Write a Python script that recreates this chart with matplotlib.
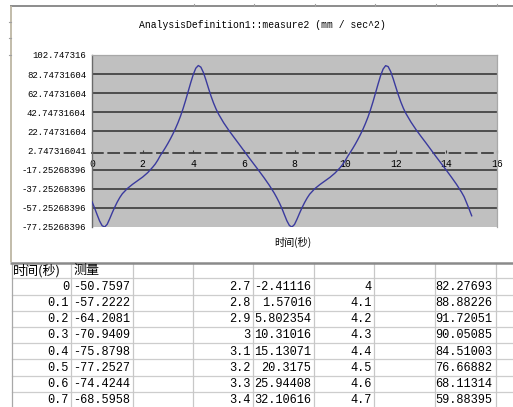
import matplotlib
matplotlib.use("Agg")
import matplotlib.pyplot as plt

# ---------------- data ----------------
time_s = [0.0, 0.1, 0.2, 0.3, 0.4, 0.5, 0.6, 0.7, 0.8, 0.9, 1.0, 1.1, 1.2, 1.4, 1.6, 1.8,
          2.0, 2.2, 2.4, 2.5, 2.6, 2.7, 2.8, 2.9, 3.0, 3.1, 3.2, 3.3, 3.4, 3.5, 3.6, 3.7,
          3.8, 3.9, 4.0, 4.1, 4.2, 4.3, 4.4, 4.5, 4.6, 4.7, 4.8, 4.9, 5.0, 5.2, 5.4, 5.6,
          5.8, 6.0, 6.2, 6.4, 6.6, 6.8, 7.0, 7.2, 7.3, 7.4, 7.5, 7.6, 7.7, 7.8, 7.9, 8.0,
          8.1, 8.2, 8.3, 8.4, 8.5, 8.6, 8.8, 9.0, 9.2, 9.4, 9.6, 9.8, 9.9, 10.0, 10.1, 10.2,
          10.3, 10.4, 10.5, 10.6, 10.7, 10.8, 10.9, 11.0, 11.1, 11.2, 11.3, 11.4, 11.5, 11.6,
          11.7, 11.8, 11.9, 12.0, 12.1, 12.2, 12.3, 12.4, 12.6, 12.8, 13.0, 13.2, 13.4, 13.6,
          13.8, 14.0, 14.2, 14.4, 14.6, 14.7, 14.8, 14.9, 15.0]
measure = [-50.7597, -57.2222, -64.2081, -70.9409, -75.8798, -77.2527, -74.4244, -68.5958,
           -62.3, -56.4, -51.0, -46.3, -42.4, -36.9, -32.6, -28.8,
           -25.0, -20.4, -14.6, -11.3, -7.2, -2.41116, 1.57016, 5.802354, 10.31016, 15.13071,
           20.3175, 25.94408, 32.10616, 39.0, 46.8, 55.4,
           64.6, 73.8, 82.27693, 88.88226, 91.72051, 90.05085, 84.51003, 76.66882, 68.11314,
           59.88395, 52.6, 46.3, 40.9, 31.9, 24.1, 16.9,
           9.8, 2.6, -4.6, -11.6, -18.6, -25.8, -33.4, -41.8, -46.6, -51.8, -57.6, -64.3,
           -70.8, -75.7, -77.2, -74.6,
           -69.0, -62.8, -56.9, -51.6, -46.9, -42.9, -37.2, -32.9, -29.1, -25.3, -20.8, -15.2,
           -11.9, -8.0, -3.4, 0.7,
           4.9, 9.4, 14.2, 19.3, 24.8, 30.9, 37.6, 45.2, 53.7, 62.9, 72.2, 81.0, 88.0, 91.6,
           90.6, 85.4, 77.8, 69.4, 61.1, 53.6, 47.1, 41.6, 32.6, 24.7, 17.5, 10.5, 3.3, -3.9,
           -10.9, -17.9, -25.1, -32.6, -40.9, -45.6, -52.0, -58.6, -65.5]

y_ticks = [102.747316, 82.74731604, 62.74731604, 42.74731604, 22.74731604,
           2.747316041, -17.25268396, -37.25268396, -57.25268396, -77.25268396]
x_ticks = [0, 2, 4, 6, 8, 10, 12, 14, 16]
chart_title = "AnalysisDefinition1::measure2 (mm / sec^2)"
x_label = "时间(秒)"

table_header = ["时间(秒)", "测量"]
table_t1 = [0, 0.1, 0.2, 0.3, 0.4, 0.5, 0.6, 0.7]
table_v1 = [-50.7597, -57.2222, -64.2081, -70.9409, -75.8798, -77.2527, -74.4244, -68.5958]
table_t2 = [2.7, 2.8, 2.9, 3, 3.1, 3.2, 3.3, 3.4]
table_v2 = [-2.41116, 1.57016, 5.802354, 10.31016, 15.13071, 20.3175, 25.94408, 32.10616]
table_t3 = [4, 4.1, 4.2, 4.3, 4.4, 4.5, 4.6, 4.7]
table_v3 = [82.27693, 88.88226, 91.72051, 90.05085, 84.51003, 76.66882, 68.11314, 59.88395]

# ---------------- figure ----------------
W, H = 513, 407
fig = plt.figure(figsize=(W / 100, H / 100), dpi=100)
fig.patch.set_facecolor("white")

MONO = ["Liberation Mono", "Noto Sans CJK SC"]
CJK = ["Noto Sans CJK SC", "DejaVu Sans"]

# background pixel-space axes for the chart frame and worksheet table
bg = fig.add_axes([0, 0, 1, 1])
bg.set_xlim(0, W)
bg.set_ylim(H, 0)
bg.axis("off")

# chart area border
bg.plot([10, W], [6, 6], color="#8c8c8c", lw=1.4, solid_capstyle="butt")
bg.plot([10.7, 10.7], [6, 262], color="#bdb6a4", lw=1.3, solid_capstyle="butt")

# worksheet table
col_x = [11.7, 71, 132.7, 192.7, 253, 314, 374, 435, 496, 556]
row_top = 278.3
row_h = 16.2
for k in range(9):
    y = row_top + k * row_h
    bg.plot([11.7, W], [y, y], color="#cdcdcd", lw=0.9)
for x in col_x:
    bg.plot([x, x], [262.7, H], color="#c8c8c8" if x > 12 else "#a8a8a8", lw=0.9)
# small sheet grid marks peeking around the chart frame
for x in col_x[3:9]:
    bg.plot([x + 1, x + 1], [3.5, 6], color="#a0a0a0", lw=0.8)
for k in range(1, 4):
    bg.plot([8.5, 10.7], [6 + k * row_h, 6 + k * row_h], color="#a0a0a0", lw=0.8)
bg.plot([10, W], [262.7, 262.7], color="#8a8a8a", lw=1.8, solid_capstyle="butt")

bg.text(13, 270.5, table_header[0], family=CJK, fontsize=9.4, ha="left", va="center")
bg.text(73, 270.5, table_header[1], family=CJK, fontsize=9.4, ha="left", va="center")

cols = [(table_t1, table_v1, 69.0, 130.5),
        (table_t2, table_v2, 250.5, 311.5),
        (table_t3, table_v3, 371.5, 492.5)]
for ts, vs, xt, xv in cols:
    for k, (t, v) in enumerate(zip(ts, vs)):
        yc = row_top + k * row_h + row_h / 2 + 0.5
        bg.text(xt, yc, f"{t:g}", family=MONO, fontsize=8.6, ha="right", va="center")
        bg.text(xv, yc, repr(v), family=MONO, fontsize=8.6, ha="right", va="center")

# chart title and axis label
bg.text(262, 25, chart_title, family=MONO, fontsize=7.0, ha="center", va="center")
bg.text(293, 242, x_label, family=CJK, fontsize=7.3, ha="center", va="center")

# ---------------- plot area ----------------
L, R, T, B = 92, 497, 55, 227
ax = fig.add_axes([L / W, 1 - B / H, (R - L) / W, (B - T) / H])
ax.set_facecolor("#c0c0c0")

# move the category axis to y = 0 first (this resets tick formatting)
ax.spines["bottom"].set_position(("data", 0))
ax.spines["bottom"].set_linestyle((0, (6, 3)))
ax.spines["bottom"].set_color("#404040")
ax.spines["bottom"].set_linewidth(1.3)
ax.spines["bottom"].set_zorder(2)
ax.spines["left"].set_color("#6a6a6a")
ax.spines["left"].set_linewidth(1.0)
for s in ("top", "right"):
    ax.spines[s].set_color("#a8a8a8")
    ax.spines[s].set_linewidth(0.9)

ax.set_xlim(x_ticks[0], x_ticks[-1])
ax.set_ylim(y_ticks[-1], y_ticks[0])

for v in y_ticks[1:-1]:
    if v == 2.747316041:
        continue
    ax.axhline(v, color="#444444", lw=1.3, zorder=1)

ax.plot(time_s, measure, color="#3a3a9e", lw=1.0, zorder=3)

ax.set_xticks(x_ticks)
ax.set_xticklabels([str(x) for x in x_ticks], family=MONO, fontsize=7.0)
ax.set_yticks(y_ticks)
ax.set_yticklabels([str(v) for v in y_ticks], family=MONO, fontsize=6.5)

ax.tick_params(axis="x", direction="in", length=2.5, width=0.8, color="#404040", pad=4.2)
ax.tick_params(axis="y", length=0, pad=4.3)

fig.savefig("out.png", dpi=100)
